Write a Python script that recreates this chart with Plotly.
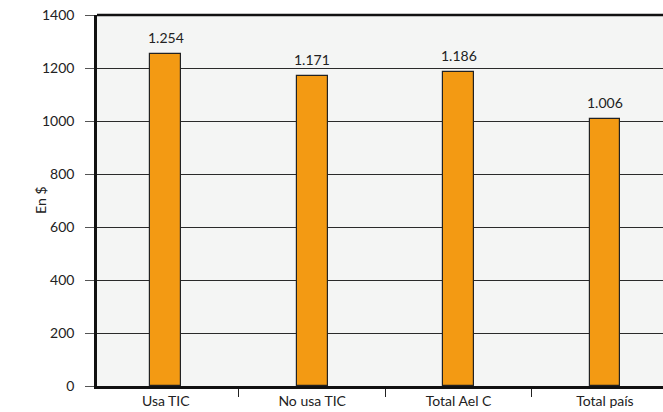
import plotly.graph_objects as go

categories = ["Usa TIC", "No usa TIC", "Total Ael C", "Total país"]
values = [1254, 1171, 1186, 1006]
y_ticks = [0, 200, 400, 600, 800, 1000, 1200, 1400]

FONT = "Lato, Open Sans, sans-serif"

fig = go.Figure(
    go.Bar(
        x=categories,
        y=values,
        width=0.21,
        marker=dict(color="#F39A13", line=dict(color="#222222", width=1.2)),
    )
)

# value labels above each bar, thousands separated with a dot
for cat, val in zip(categories, values):
    fig.add_annotation(
        x=cat, y=val, text=f"{val:,}".replace(",", "."),
        showarrow=False, yanchor="bottom", yshift=6,
        font=dict(family=FONT, size=14, color="#222222"),
    )

# vertical axis title
fig.add_annotation(
    xref="paper", yref="paper", x=-0.1, y=0.5, text="En $", textangle=-90,
    showarrow=False, xanchor="center", yanchor="middle",
    font=dict(family=FONT, size=14, color="#222222"),
)

fig.update_layout(
    width=663,
    height=412,
    margin=dict(l=97, r=0, t=15, b=26),
    paper_bgcolor="white",
    plot_bgcolor="#F4F5F4",
    showlegend=False,
    font=dict(family=FONT, size=14, color="#222222"),
    bargap=0,
)

fig.update_xaxes(
    type="category",
    range=[-0.47, 3.397],
    tickson="boundaries",
    ticks="outside",
    ticklen=8,
    tickcolor="#222222",
    tickwidth=1,
    showgrid=False,
    showline=True,
    linecolor="#111111",
    linewidth=2.5,
    tickfont=dict(family=FONT, size=14, color="#222222"),
)

fig.update_yaxes(
    range=[0, 1400],
    tickvals=y_ticks,
    ticks="outside",
    ticklen=9,
    tickcolor="#555555",
    tickwidth=1,
    ticklabelstandoff=8,
    showgrid=True,
    gridcolor="#2a2a2a",
    gridwidth=1,
    zeroline=False,
    showline=True,
    linecolor="#111111",
    linewidth=2.5,
    tickfont=dict(family=FONT, size=14, color="#222222"),
)

# top border of the plotting area
fig.add_shape(type="line", xref="paper", yref="paper", x0=0, x1=1, y0=1, y1=1,
              line=dict(color="#111111", width=2.5))

fig.write_html("out.html")
